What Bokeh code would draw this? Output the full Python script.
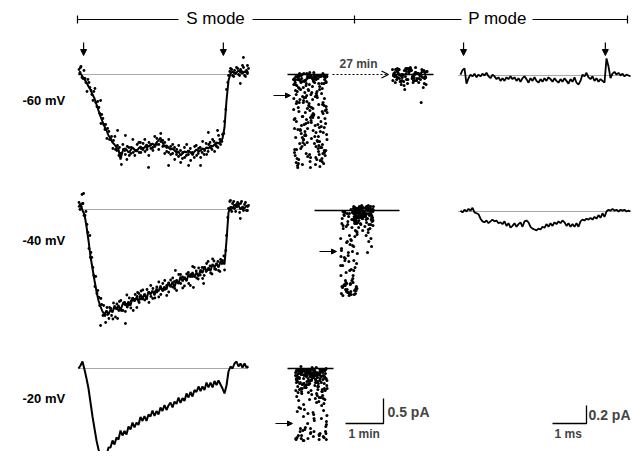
import numpy as np
from bokeh.plotting import figure
from bokeh.models import Range1d, Arrow, NormalHead, OpenHead, Label
from bokeh.embed import file_html
from bokeh.resources import INLINE

# ---------------- data ----------------
SWEEP_MS = 5.0                 # length of every current sweep (ms)
s_pulse_ms = [0.15, 4.26]      # S mode pulse on / off (ms)
p_pulse_ms = [0.09, 4.26]      # P mode pulse on / off (ms)
row_labels = ["-60 mV", "-40 mV", "-20 mV"]

# S mode average currents (pA), uniform sampling over the sweep
s60_I = [0.00, 0.02, -0.04, -0.10, -0.16, -0.24, -0.30, -0.40, -0.48, -0.60,
         -0.72, -0.84, -0.94, -1.04, -1.12, -1.22, -1.28, -1.36, -1.40, -1.46,
         -1.50, -1.70, -1.54, -1.48, -1.50, -1.56, -1.52, -1.46, -1.50, -1.54,
         -1.48, -1.44, -1.48, -1.46, -1.40, -1.44, -1.42, -1.38, -1.42, -1.36,
         -1.32, -1.26, -1.36, -1.44, -1.42, -1.46, -1.50, -1.48, -1.52, -1.56,
         -1.54, -1.62, -1.58, -1.54, -1.56, -1.52, -1.56, -1.60, -1.54, -1.50,
         -1.54, -1.52, -1.48, -1.50, -1.46, -1.48, -1.42, -1.44, -1.40, -1.36,
         -1.38, -1.34, -1.28, -1.06, -0.52, -0.12, 0.02, 0.06, 0.02, 0.04,
         0.08, 0.04, 0.02, 0.06, 0.04, 0.06]
s60_dotsA = [0.10, 0.16, -0.08, -0.08, -0.34, -0.16, -0.32, -0.52, -0.28, -0.64,
             -0.66, -0.98, -0.88, -1.10, -1.28, -1.14, -1.30, -1.48, -1.24, -1.52,
             -1.62, -1.58, -1.40, -1.52, -1.70, -1.46, -1.58, -1.30, -1.62, -1.52,
             -1.36, -1.56, -1.50, -1.30, -1.46, -1.62, -1.40, -1.46, -1.24, -1.40,
             -1.50, -1.18, -1.32, -1.58, -1.46, -1.30, -1.60, -1.40, -1.70, -1.50,
             -1.42, -1.76, -1.56, -1.66, -1.40, -1.54, -1.72, -1.60, -1.44, -1.62,
             -1.48, -1.66, -1.34, -1.52, -1.60, -1.40, -1.46, -1.30, -1.54, -1.44,
             -1.22, -1.40, -1.20, -0.94, -0.30, -0.02, 0.12, -0.02, 0.08, 0.14,
             0.00, 0.10, 0.18, -0.02, 0.08, 0.12]
s60_dotsB = [0.04, -0.06, 0.08, -0.16, -0.10, -0.26, -0.40, -0.34, -0.56, -0.54,
             -0.78, -0.80, -1.00, -1.00, -1.08, -1.30, -1.24, -1.32, -1.50, -1.42,
             -1.46, -1.80, -1.50, -1.60, -1.44, -1.62, -1.46, -1.56, -1.52, -1.40,
             -1.56, -1.48, -1.38, -1.54, -1.50, -1.36, -1.48, -1.52, -1.44, -1.28,
             -1.40, -1.34, -1.44, -1.36, -1.54, -1.56, -1.44, -1.58, -1.46, -1.60,
             -1.64, -1.52, -1.68, -1.46, -1.62, -1.60, -1.48, -1.56, -1.66, -1.42,
             -1.58, -1.46, -1.56, -1.60, -1.38, -1.54, -1.36, -1.50, -1.34, -1.42,
             -1.46, -1.30, -1.34, -1.18, -0.70, -0.16, 0.06, 0.10, -0.04, 0.02,
             0.12, -0.02, 0.06, 0.14, -0.04, 0.02]
s60_out_t = [0.06, 0.65, 1.15, 1.38, 1.82, 2.06, 2.65, 3.24, 3.59, 3.82, 4.09, 4.76, 4.85, 4.97]
s60_out_I = [0.14, -0.52, -1.12, -1.22, -1.36, -1.86, -1.82, -1.82, -1.82, -1.16, -1.12, -0.18, 0.34, 0.18]

s40_I = [0.04, 0.12, -0.02, -0.10, -0.34, -0.62, -0.94, -1.18, -1.42, -1.64,
         -1.82, -1.94, -2.04, -2.10, -2.02, -2.10, -2.00, -2.06, -1.92, -2.00,
         -1.91, -2.02, -1.90, -1.84, -1.93, -1.84, -1.92, -1.76, -1.84, -1.76,
         -1.84, -1.70, -1.78, -1.68, -1.80, -1.64, -1.70, -1.62, -1.72, -1.58,
         -1.64, -1.52, -1.63, -1.54, -1.60, -1.46, -1.55, -1.44, -1.55, -1.43,
         -1.49, -1.34, -1.44, -1.35, -1.43, -1.30, -1.36, -1.25, -1.35, -1.26,
         -1.34, -1.20, -1.27, -1.14, -1.24, -1.16, -1.23, -1.09, -1.16, -1.07,
         -1.16, -1.04, -1.04, -1.10, -0.62, -0.06, 0.06, 0.02, 0.10, 0.04,
         0.08, 0.00, 0.06, 0.02, 0.08, 0.04]
s40_dotsA = [0.14, 0.06, 0.12, -0.12, -0.30, -0.78, -0.86, -1.16, -1.54, -1.68,
             -1.76, -1.78, -2.12, -2.12, -1.96, -2.18, -1.98, -2.19, -1.97, -1.89,
             -2.02, -1.82, -2.02, -1.90, -1.71, -1.91, -1.97, -1.78, -1.80, -1.96,
             -1.68, -1.79, -1.61, -1.81, -1.78, -1.66, -1.52, -1.78, -1.65, -1.55,
             -1.75, -1.58, -1.48, -1.60, -1.72, -1.47, -1.53, -1.37, -1.58, -1.42,
             -1.30, -1.48, -1.57, -1.37, -1.29, -1.48, -1.30, -1.14, -1.34, -1.37,
             -1.17, -1.25, -1.38, -1.16, -1.08, -1.20, -1.27, -0.99, -1.19, -1.10,
             -1.22, -1.00, -1.02, -1.21, -0.52, 0.02, 0.00, 0.12, 0.02, 0.10,
             0.10, 0.12, 0.02, 0.10, -0.02, 0.08]
s40_dotsB = [0.00, 0.30, -0.12, -0.04, -0.46, -0.52, -0.96, -1.32, -1.34, -1.62,
             -1.92, -1.90, -1.92, -2.26, -2.10, -1.96, -2.12, -1.87, -2.15, -1.99,
             -1.84, -2.02, -1.88, -2.04, -1.95, -1.77, -1.83, -2.02, -1.70, -1.74,
             -1.86, -1.63, -1.79, -1.71, -1.60, -1.86, -1.74, -1.58, -1.77, -1.65,
             -1.45, -1.70, -1.62, -1.42, -1.52, -1.65, -1.41, -1.55, -1.44, -1.62,
             -1.46, -1.30, -1.35, -1.53, -1.41, -1.26, -1.52, -1.34, -1.16, -1.23,
             -1.39, -1.31, -1.16, -1.32, -1.24, -1.04, -1.13, -1.29, -1.03, -1.20,
             -1.04, -1.24, -1.08, -0.93, -0.82, -0.16, 0.16, -0.04, 0.16, -0.04,
             0.14, -0.06, 0.16, -0.02, 0.14, -0.02]
s40_out_t = [0.15, 0.12, 0.35, 0.65, 1.15, 1.38, 1.74, 2.85, 3.38, 3.68, 4.47, 4.76]
s40_out_I = [0.32, 0.12, -0.96, -2.32, -2.18, -2.28, -1.66, -1.22, -1.56, -1.48, 0.18, -0.18]

s20_I = [0.00, 0.06, 0.14, -0.02, -0.20, -0.40, -0.68, -0.96, -1.20, -1.44,
         -1.62, -1.74, -1.82, -1.68, -1.74, -1.58, -1.58, -1.44, -1.52, -1.38,
         -1.42, -1.24, -1.34, -1.25, -1.32, -1.16, -1.22, -1.08, -1.18, -1.08,
         -1.13, -0.97, -1.05, -0.95, -1.05, -0.92, -0.96, -0.84, -0.95, -0.85,
         -0.92, -0.78, -0.85, -0.73, -0.83, -0.74, -0.68, -0.78, -0.66, -0.71,
         -0.58, -0.69, -0.59, -0.65, -0.50, -0.58, -0.47, -0.56, -0.43, -0.47,
         -0.36, -0.45, -0.36, -0.43, -0.28, -0.38, -0.28, -0.38, -0.25, -0.33,
         -0.24, -0.32, -0.40, -0.50, -0.34, -0.06, 0.04, 0.00, 0.10, 0.14,
         0.04, 0.10, 0.02, 0.10, 0.02, 0.04]

# P mode average currents (pA)
p60_I = [0.01, 0.06, 0.08, -0.09, -0.03, 0.01, -0.01, 0.02, -0.02, 0.01,
         -0.01, 0.02, 0.00, 0.03, -0.01, -0.03, 0.01, -0.01, -0.04, -0.02,
         -0.06, -0.03, -0.06, -0.02, -0.04, -0.01, -0.04, -0.02, -0.06, -0.03,
         -0.07, -0.03, -0.01, -0.04, -0.08, -0.03, -0.06, -0.02, -0.06, -0.08,
         -0.04, -0.07, -0.03, -0.06, -0.02, -0.04, -0.07, -0.03, -0.06, -0.08,
         -0.04, -0.07, -0.03, -0.06, -0.09, -0.04, -0.07, -0.02, -0.08, -0.10,
         -0.06, 0.01, -0.01, 0.03, -0.02, -0.04, -0.01, -0.06, -0.03, -0.07,
         -0.04, -0.06, -0.08, 0.19, 0.10, -0.03, 0.02, 0.04, 0.01, 0.03,
         0.00, 0.02, -0.01, 0.01, 0.00, -0.01]
p40_I = [0.01, -0.01, 0.02, 0.00, 0.03, 0.01, 0.04, -0.01, -0.02, -0.03,
         -0.08, -0.11, -0.12, -0.10, -0.13, -0.11, -0.09, -0.11, -0.10, -0.13,
         -0.12, -0.14, -0.11, -0.16, -0.13, -0.18, -0.16, -0.13, -0.17, -0.14,
         -0.12, -0.17, -0.11, -0.10, -0.12, -0.17, -0.19, -0.20, -0.21, -0.19,
         -0.20, -0.17, -0.18, -0.14, -0.17, -0.13, -0.16, -0.12, -0.14, -0.11,
         -0.13, -0.10, -0.12, -0.16, -0.13, -0.17, -0.14, -0.17, -0.13, -0.17,
         -0.11, -0.09, -0.10, -0.08, -0.09, -0.07, -0.09, -0.06, -0.08, -0.04,
         -0.07, -0.02, -0.06, 0.00, 0.02, 0.01, 0.03, 0.01, 0.02, 0.00,
         0.02, 0.01, 0.02, 0.00, 0.01, 0.00]

# single-sweep amplitudes (pA); position of each sweep within its span (fraction)
cloud_pos = [0.52, 0.13, 0.87, 0.31, 0.68, 0.05, 0.94, 0.42, 0.21, 0.77,
             0.60, 0.02, 0.36, 0.89, 0.17, 0.71, 0.47, 0.98, 0.26, 0.55,
             0.09, 0.83, 0.39, 0.64, 0.14, 0.92, 0.50, 0.29, 0.75, 0.07,
             0.58, 0.34, 0.96, 0.19, 0.66, 0.44, 0.81, 0.11, 0.53, 0.24,
             0.86, 0.03, 0.70, 0.38, 0.91, 0.16, 0.62, 0.48, 0.27, 0.79,
             0.00, 0.57, 0.33, 0.85, 0.12, 0.73, 0.41, 0.95, 0.22, 0.65,
             0.08, 0.49, 0.88, 0.30, 0.76, 0.18, 0.59, 0.99, 0.37, 0.04,
             0.69, 0.45, 0.82, 0.15, 0.54, 0.25, 0.93, 0.40, 0.63, 0.10,
             0.78, 0.32, 0.97, 0.20, 0.51, 0.06, 0.74, 0.43, 0.90, 0.28,
             0.61, 0.01, 0.84, 0.35, 0.67, 0.23, 0.46, 0.80, 0.14, 0.56,
             0.72, 0.08, 0.39, 0.94, 0.26, 0.60, 0.19, 0.87, 0.47, 0.03,
             0.66, 0.33, 0.77, 0.12, 0.52, 0.97, 0.29, 0.70, 0.05, 0.42,
             0.85, 0.22, 0.58, 0.36, 0.91, 0.16, 0.74, 0.49, 0.01, 0.63,
             0.31, 0.89, 0.44, 0.09, 0.68, 0.25, 0.81, 0.55, 0.18, 0.96]
cloud60_span = [0.0, 0.89]     # min
cloud60_I = [-0.02, -1.10, 0.02, -0.46, -0.08, -1.62, -0.72, -0.04, -0.30, -1.34,
             0.04, -0.90, -0.12, -1.78, -0.56, -0.02, -0.20, -1.20, -0.84, -0.06,
             -1.50, -0.38, 0.02, -1.02, -0.66, -0.10, -1.86, -0.26, -1.42, -0.04,
             -0.78, -1.14, -0.14, -0.50, -1.66, 0.00, -0.94, -0.34, -1.28, -0.08,
             -0.60, -1.56, -0.02, -0.18, -1.06, -0.74, -1.38, 0.04, -0.44, -1.72,
             -0.10, -0.86, -1.22, -0.28, -0.04, -1.48, -0.68, -0.98, -0.16, -1.80,
             -0.40, -0.06, -1.16, -0.52, -1.60, 0.02, -0.82, -1.30, -0.22, -0.12,
             -1.70, -0.62, -1.04, -0.02, -0.36, -1.44, -0.88, -0.08, -1.24, -0.54,
             -1.84, -0.14, -0.70, -1.10, -0.04, -0.32, -1.54, -0.96, -0.18, -1.36,
             0.00, -0.48, -1.68, -0.76, -0.10, -1.18, -0.58, -1.46, -0.06, -0.24,
             -1.00, -1.76, -0.42, -0.02, -1.26, -0.80, -0.12, -1.58, -0.64, -1.08,
             -0.08, -1.40, -0.30, -1.82, -0.92, -0.04, -0.56, -1.32, -0.16, -1.64,
             -0.74, -0.02, -1.12, -0.46, -1.52, -0.10, -0.86, -1.74, -0.20, -0.06]
cloud60_I2 = [-0.06, -0.64, -1.30, -0.02, -0.94, -0.18, -1.58, -0.40, -0.08, -1.12,
              -0.76, -0.02, -1.44, -0.26, -0.56, -1.80, -0.12, -0.88, -0.04, -1.20,
              -0.48, -1.66, -0.10, -0.34, -1.02, -0.02, -1.36, -0.70, -0.16, -1.52,
              0.02, -0.82, -0.28, -1.74, -0.06, -0.60, -1.26, -0.14, -0.98, -0.04,
              -1.48, -0.38, -0.08, -1.14, -0.72, -1.62, 0.00, -0.50, -0.22, -1.34,
              -0.90, -0.04, -1.70, -0.44, -0.12, -1.06, -0.66, -0.02, -1.40, -0.30,
              -0.84, -1.56, -0.08, -0.20, -1.24, -0.54, -0.04, -1.86, -0.96, -0.16,
              -0.36, -1.16, -0.02, -0.78, -1.60, -0.10, -0.46, -1.30, -0.06, -0.68,
              -1.78, -0.24, -1.08, -0.02, -0.58, -1.46, -0.14, -0.86, -0.04, -1.22,
              -0.42, -1.68, -0.08, -0.62, -1.00, -0.18, -1.38, -0.32, -0.02, -1.50]
cloud60_late_span = [0.0, 0.92]
cloud60_late_I = [0.10, -0.04, 0.02, -0.12, 0.06, -0.08, 0.12, -0.02, -0.16, 0.04,
                  -0.06, 0.08, -0.20, 0.00, 0.14, -0.10, 0.02, -0.04, 0.10, -0.14,
                  0.06, -0.02, -0.08, 0.12, -0.18, 0.04, -0.06, 0.08, -0.12, 0.00,
                  0.10, -0.04, -0.22, 0.06, -0.10, 0.02, 0.12, -0.06, -0.14, 0.04,
                  -0.02, 0.08, -0.26, 0.00, -0.08, 0.10, -0.16, 0.06, -0.04, 0.02,
                  -0.12, 0.12, -0.56, -0.06, 0.08, -0.20, 0.04, -0.10, 0.00, 0.10,
                  -0.02, -0.14, 0.06, -0.08, 0.14, -0.04, 0.02, -0.18, 0.08, -0.06,
                  0.00, -0.12, 0.10, -0.30, 0.04, -0.02, 0.06, -0.10, 0.12, -0.08,
                  0.02, -0.16, 0.08, -0.04, 0.00, -0.12, 0.10, -0.06, 0.04, -0.02]
gap_label = "27 min"
cloud40a_span = [0.0, 0.45]
cloud40a_I = [-0.04, -0.90, -1.60, -0.30, -1.20, -0.02, -1.52, -0.62, -1.68, -0.16,
              -1.00, -1.44, -0.44, -0.08, -1.66, -0.76, -1.30, -0.22, -1.56, -0.96,
              0.02, -1.10, -0.52, -1.62, -0.34, -1.48, -0.84, -0.12, -1.70, -0.68,
              -1.36, -0.26, -1.58, -1.06, -0.04, -0.58, -1.50, -0.40, -1.64, -0.92,
              -0.18, -1.24, -0.72, -1.54, -0.06, -0.48, -1.40, -0.82, -1.66, -0.28,
              -1.14, -0.10, -1.46, -0.64, -1.60, -0.36, -0.02, -1.02, -0.56, -1.18]
cloud40a_I2 = [-1.50, -0.20, -1.62, -0.80, -1.44, -0.06, -1.68, -1.10, -0.50, -1.56,
               -0.32, -1.40, -0.94, -1.66, -0.12, -1.30, -0.70, -1.58, -0.42, -1.48,
               -0.02, -1.20, -1.64, -0.60, -1.52, -0.26, -1.00, -1.70, -0.86, -1.46]
cloud40b_span = [0.34, 0.87]
cloud40b_I = [0.08, -0.04, -0.16, 0.02, -0.10, -0.26, 0.06, -0.02, -0.20, -0.08,
              0.04, -0.32, -0.12, 0.00, -0.06, -0.44, 0.10, -0.14, -0.02, -0.24,
              0.06, -0.08, -0.18, 0.02, -0.62, -0.04, -0.12, 0.08, -0.28, -0.06,
              0.00, -0.16, -0.36, 0.04, -0.10, -0.02, -0.22, 0.06, -0.50, -0.08,
              0.02, -0.14, -0.30, 0.00, -0.04, -0.20, 0.10, -0.12, -0.72, -0.06,
              0.04, -0.18, -0.02, -0.26, 0.08, -0.10, -0.40, 0.00, -0.14, -0.04,
              0.06, -0.22, -0.08, 0.02, -0.34, -0.12, 0.04, -0.56, -0.02, -0.16,
              0.08, -0.06, -0.28, 0.00, -0.10, -0.20, 0.06, -0.84, -0.04, -0.12,
              0.02, -0.24, -0.08, 0.04, -0.14, -0.02, -0.38, 0.06, -0.06, -0.18]
cloud40b_I2 = [0.04, -0.06, -0.12, 0.08, -0.02, -0.18, 0.00, -0.10, 0.06, -0.04,
               -0.14, 0.02, -0.08, -0.22, 0.04, -0.02, -0.12, 0.08, -0.06, -0.16,
               0.00, -0.04, -0.10, 0.06, -0.28, -0.02, -0.08, 0.04, -0.14, 0.00,
               -0.06, 0.02, -0.20, -0.10, 0.06, -0.04, -0.12, 0.00, -0.08, 0.04,
               -0.16, -0.02, 0.08, -0.06, -0.24, 0.02, -0.10, -0.04, 0.06, -0.14]
cloud20_span = [0.0, 0.84]
cloud20_I = [0.02, -0.30, -1.36, -0.08, -0.54, -0.14, -1.26, -0.02, -0.40, -0.20,
             -0.06, -1.42, -0.26, -0.70, 0.04, -0.12, -1.30, -0.34, -0.04, -0.88,
             -0.18, -0.46, -1.40, -0.10, -0.02, -0.62, -0.24, -1.22, -0.08, -0.36,
             -1.00, -0.16, 0.00, -1.34, -0.50, -0.06, -0.28, -0.78, -0.12, -1.44,
             -0.22, -0.04, -0.42, -1.10, -0.18, -0.08, -0.60, -1.28, -0.30, -0.02,
             -0.14, -0.92, -0.38, -0.06, -0.20, -0.66, -0.10, -1.16, -0.32, 0.02,
             -0.48, -0.16, -0.84, -0.04, -0.24, -0.12, -1.04, -0.40, -0.08, -0.56,
             -0.18, -0.02, -0.74, -0.28, -0.10, -0.96, -0.44, -0.06, -0.22, -0.64,
             -0.14, -0.34, -1.12, -0.04, -0.52, -0.20, -1.32, -0.08, -0.30, -0.82,
             -0.12, -1.40, -0.42, -0.02, -0.26, -1.24, -0.16, -0.58, -0.06, -1.36,
             -0.36, -0.10, -0.90, -0.20, -1.44, -0.04, -0.46, -0.14, -1.20, -0.28,
             -0.68, -0.08, -1.30, -0.18, -0.02, -1.06, -0.38, -0.12, -1.38, -0.24,
             -0.54, -0.06, -1.26, -0.32, -0.16, -0.80, -1.42, -0.10, -0.44, -0.22,
             -1.18, -0.04, -0.62, -1.34, -0.14, -0.30, -1.00, -0.08, -1.40, -0.20]
cloud20_I2 = [-0.04, -0.22, -0.10, -0.36, -0.02, -0.16, -0.48, -0.08, -0.28, -1.30,
              -0.06, -0.18, -0.40, -0.02, -0.12, -0.58, -0.26, -0.04, -0.14, -1.38,
              -0.32, -0.08, -0.20, -0.02, -0.44, -0.10, -0.72, -0.16, -0.04, -0.30,
              -0.06, -0.24, -1.20, -0.12, -0.38, -0.02, -0.18, -0.50, -0.08, -0.26,
              -0.14, -0.04, -0.34, -0.86, -0.10, -0.20, -0.02, -0.42, -0.16, -1.42,
              -0.06, -0.28, -0.12, -0.60, -0.04, -0.22, -0.10, -0.36, -0.02, -0.18,
              -1.26, -0.08, -0.32, -0.14, -0.04, -0.46, -0.20, -0.10, -0.94, -0.06,
              -0.26, -0.02, -0.16, -0.40, -0.12, -1.34, -0.08, -0.30, -0.04, -0.22]
# arrowed levels (average current, pA)
level_I = [-0.42, -0.82, -1.10]

# scale bars
bar_S_pA, bar_S_min = 0.5, 1.0
bar_P_pA, bar_P_ms = 0.2, 1.0

# ---------------- layout (pixels of the page) ----------------
W, H = 634, 451
S_X0, S_SX, S_SY = 78, 34.0, 50.0          # px per ms, px per pA
P_X0, P_SX, P_SY = 460, 34.0, 90.0
C_SX, C_SY = 38.0, 50.0                    # px per min, px per pA
S_BASE = [74, 209, 368]
P_BASE = [75, 211]
LABEL_Y = [100, 240, 398]
FONT = "Liberation Sans"

p = figure(width=W, height=H, x_range=Range1d(0, W), y_range=Range1d(H, 0),
           output_backend="svg", toolbar_location=None, min_border=0)
p.axis.visible = False
p.grid.visible = False
p.outline_line_color = None


def place(t, I, x0, y0, sx, sy):
    return x0 + sx * np.asarray(t, float), y0 - sy * np.asarray(I, float)


def tgrid(n, a=0.0, b=SWEEP_MS):
    return np.linspace(a, b, n)


# header brackets
p.segment(x0=[77, 252, 532, 77, 354, 627], y0=[19, 19, 19, 15, 15, 15],
          x1=[178, 461, 627, 77, 354, 627], y1=[19, 19, 19, 23, 23, 23],
          line_color="black", line_width=1.2)
for txt, xc in (("S mode", 215), ("P mode", 497)):
    p.add_layout(Label(x=xc, y=18, text=txt, text_font=FONT, text_font_size="17px",
                       text_align="center", text_baseline="middle", text_color="black"))

# stimulus arrows
for t in s_pulse_ms:
    xa = S_X0 + S_SX * t
    p.add_layout(Arrow(end=NormalHead(size=6, fill_color="black", line_color="black"),
                       x_start=xa, y_start=42, x_end=xa, y_end=55, line_width=1.2))
for t in p_pulse_ms:
    xa = P_X0 + P_SX * t
    p.add_layout(Arrow(end=NormalHead(size=6, fill_color="black", line_color="black"),
                       x_start=xa, y_start=42, x_end=xa, y_end=55, line_width=1.2))

# row labels
for lab, y in zip(row_labels, LABEL_Y):
    p.add_layout(Label(x=22, y=y, text=lab, text_font=FONT, text_font_size="13px",
                       text_font_style="bold", text_baseline="middle", text_color="black"))

# S mode baselines and traces
for yb in S_BASE:
    p.line([S_X0, S_X0 + S_SX * SWEEP_MS], [yb, yb], line_color="#555555",
           line_dash="1 1", line_width=1)
for I, yb in ((s60_I, S_BASE[0]), (s40_I, S_BASE[1]), (s20_I, S_BASE[2])):
    x, y = place(tgrid(len(I)), I, S_X0, yb, S_SX, S_SY)
    p.line(x, y, line_color="black", line_width=2)

for A, B, ot, oI, yb in ((s60_dotsA, s60_dotsB, s60_out_t, s60_out_I, S_BASE[0]),
                         (s40_dotsA, s40_dotsB, s40_out_t, s40_out_I, S_BASE[1])):
    xa, ya = place(tgrid(len(A), 0.015, SWEEP_MS), A, S_X0, yb, S_SX, S_SY)
    xb, yb2 = place(tgrid(len(B), 0.045, SWEEP_MS - 0.03), B, S_X0, yb, S_SX, S_SY)
    xo, yo = place(ot, oI, S_X0, yb, S_SX, S_SY)
    p.scatter(np.concatenate([xa, xb, xo]), np.concatenate([ya, yb2, yo]),
              size=2.8, color="black", line_width=0)

# P mode baselines and traces
for yb in P_BASE:
    p.line([P_X0 - 2, P_X0 + P_SX * SWEEP_MS], [yb, yb], line_color="#555555",
           line_dash="1 1", line_width=1)
for I, yb in ((p60_I, P_BASE[0]), (p40_I, P_BASE[1])):
    x, y = place(tgrid(len(I)), I, P_X0, yb, P_SX, P_SY)
    p.line(x, y, line_color="black", line_width=1.8)

# amplitude clouds: zero lines
p.segment(x0=[287, 392, 314, 287], y0=[74, 74, 210, 368],
          x1=[328, 433, 399, 333], y1=[74, 74, 210, 368], line_color="black", line_width=1.5)
# (I, span, x0, y0, offset into cloud_pos, mirrored positions?)
clouds = ((cloud60_I, cloud60_span, 293, 74, 0, False), (cloud60_I2, cloud60_span, 293, 74, 40, True),
          (cloud60_late_I, cloud60_late_span, 392, 74, 20, False),
          (cloud40a_I, cloud40a_span, 340, 210, 70, False), (cloud40a_I2, cloud40a_span, 340, 210, 100, True),
          (cloud40b_I, cloud40b_span, 340, 210, 40, False), (cloud40b_I2, cloud40b_span, 340, 210, 0, True),
          (cloud20_I, cloud20_span, 295, 368, 0, False), (cloud20_I2, cloud20_span, 295, 368, 60, True))
for I, span, x0, y0, off, mirror in clouds:
    frac = np.asarray(cloud_pos[off:off + len(I)])
    if mirror:
        frac = 0.995 - frac
    t = span[0] + (span[1] - span[0]) * frac
    x, y = place(t, I, x0, y0, C_SX, C_SY)
    p.scatter(x, y, size=3.0, color="black", line_width=0)

# level arrows
for lv, xs, y0 in zip(level_I, (273, 319, 275), (74, 210, 368)):
    ya = y0 - C_SY * lv
    p.add_layout(Arrow(end=NormalHead(size=5, fill_color="black", line_color="black"),
                       x_start=xs, y_start=ya, x_end=xs + 17, y_end=ya, line_width=1.2))

# 27 min gap arrow
p.add_layout(Arrow(end=OpenHead(size=7, line_color="black", line_width=1.2),
                   x_start=332, y_start=74, x_end=388, y_end=74,
                   line_dash="2 2", line_width=1.2))
p.add_layout(Label(x=358, y=63, text=gap_label, text_font=FONT, text_font_size="12px",
                   text_font_style="bold", text_align="center", text_baseline="middle"))

# scale bars
bx, by = 383, 423
p.line([bx - C_SX * bar_S_min, bx, bx], [by, by, by - C_SY * bar_S_pA],
       line_color="black", line_width=1.3)
p.add_layout(Label(x=bx + 4, y=411, text="0.5 pA", text_font=FONT, text_font_size="14px",
                   text_font_style="bold", text_baseline="middle"))
p.add_layout(Label(x=bx - 35, y=433, text="1 min", text_font=FONT, text_font_size="12px",
                   text_font_style="bold", text_baseline="middle"))
qx, qy = 586, 423
p.line([qx - P_SX * bar_P_ms, qx, qx], [qy, qy, qy - P_SY * bar_P_pA],
       line_color="black", line_width=1.3)
p.add_layout(Label(x=qx + 2, y=414, text="0.2 pA", text_font=FONT, text_font_size="14px",
                   text_font_style="bold", text_baseline="middle"))
p.add_layout(Label(x=qx - 32, y=433, text="1 ms", text_font=FONT, text_font_size="12px",
                   text_font_style="bold", text_baseline="middle"))

open("out.html", "w").write(file_html(p, INLINE))
